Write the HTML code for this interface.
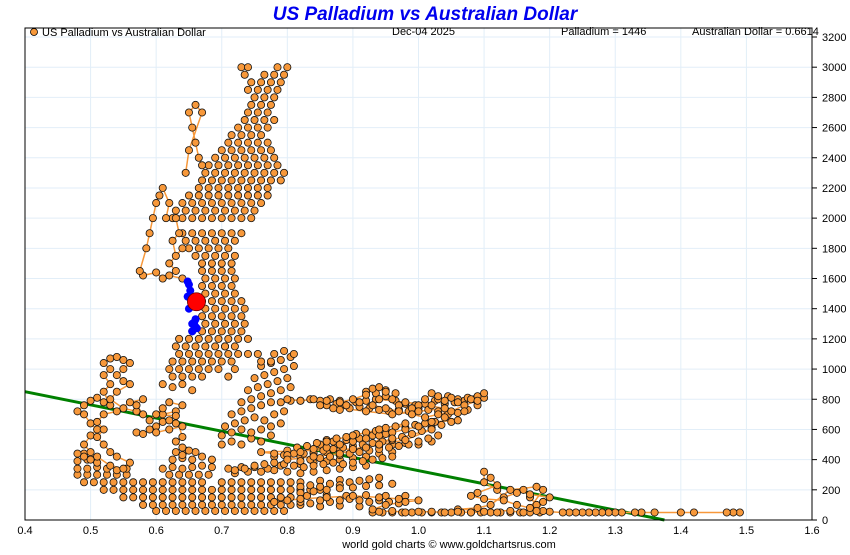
<!DOCTYPE html>
<html><head><meta charset="utf-8"><style>
body{margin:0;background:#fff;font-family:"Liberation Sans",sans-serif}
svg text{font-family:"Liberation Sans",sans-serif}
</style></head><body>
<svg id="chart" width="850" height="550" xmlns="http://www.w3.org/2000/svg">
<text x="425" y="20" text-anchor="middle" font-size="19" font-weight="bold" font-style="italic" fill="#0000ee">US Palladium vs Australian Dollar</text>
<g id="grid"></g>
<g id="trend"></g>
<g id="lines"></g>
<g id="dots"></g>
<g id="axes"></g>
<rect x="25" y="28" width="787" height="492" fill="none" stroke="#000" stroke-width="1"/>
<circle cx="34" cy="32" r="3.5" fill="#f7983a" stroke="#000" stroke-width="0.8"/>
<text x="42" y="36" font-size="11">US Palladium vs Australian Dollar</text>
<text x="392" y="35" font-size="11">Dec-04  2025</text>
<text x="561" y="35" font-size="11">Palladium = 1446</text>
<text x="692" y="35" font-size="11">Australian Dollar = 0.6614</text>
<text x="449" y="548" text-anchor="middle" font-size="11">world gold charts © www.goldchartsrus.com</text>
</svg>
<script>
const xTicks=["0.4","0.5","0.6","0.7","0.8","0.9","1.0","1.1","1.2","1.3","1.4","1.5","1.6"];
const yTicks=[0,200,400,600,800,1000,1200,1400,1600,1800,2000,2200,2400,2600,2800,3000,3200];
const trendAud=[0.4,1.375];
const trendPd=[850,0];
const segTail=[[1.49,50],[1.48,50],[1.47,50],[1.42,50],[1.40,50],[1.36,50],[1.34,50],[1.33,50],[1.31,50],[1.30,50],[1.29,50],[1.28,50],[1.27,50],[1.26,50],[1.25,50],[1.24,50],[1.23,50],[1.22,50],[1.20,55],[1.19,60]];
const segCluster11=[[1.18,100],[1.17,150],[1.16,200],[1.15,180],[1.13,150],[1.12,200],[1.10,250],[1.10,320],[1.11,280],[1.12,230],[1.09,180],[1.08,160],[1.10,140],[1.13,130],[1.15,100],[1.17,80],[1.19,200],[1.18,220],[1.14,200],[1.11,100],[1.09,80],[1.06,70],[1.14,60],[1.16,50],[1.18,60],[1.19,120],[1.20,150],[1.17,170]];
const segBand50=[[1.12,50],[1.10,55],[1.08,50],[1.06,55],[1.04,50],[1.02,55],[1.00,55],[0.98,50],[0.96,60],[0.94,55],[0.93,70],[0.95,100],[0.98,120],[1.00,130],[0.97,140],[0.94,150],[0.90,160],[0.86,150],[0.82,140],[0.80,130],[0.78,120]];
const segLeft=[[0.48,440],[0.49,420],[0.50,400],[0.51,380],[0.50,450],[0.49,500],[0.50,560],[0.51,600],[0.50,640],[0.49,700],[0.48,720],[0.49,760],[0.50,790],[0.51,810],[0.52,780],[0.53,760],[0.52,850],[0.53,900],[0.52,960],[0.53,1000],[0.52,1040],[0.53,1070],[0.54,1080],[0.55,1060],[0.56,1040],[0.55,1000],[0.54,960],[0.55,920],[0.56,900],[0.54,850],[0.53,800],[0.55,740],[0.57,720],[0.58,700],[0.57,760],[0.58,800],[0.56,780],[0.54,720],[0.52,700],[0.51,650],[0.52,600],[0.51,550],[0.52,500],[0.53,450],[0.54,420],[0.56,380],[0.55,340],[0.53,360],[0.51,420]];
const segMidLeft=[[0.57,580],[0.58,570],[0.59,600],[0.60,620],[0.61,650],[0.62,660],[0.63,640],[0.64,620],[0.62,600],[0.60,580],[0.61,700],[0.63,720],[0.64,760],[0.62,780],[0.61,740],[0.59,660],[0.60,700],[0.63,690],[0.64,550],[0.63,520],[0.64,480],[0.65,460],[0.64,430]];
const segRightArm=[[0.80,800],[0.82,790],[0.84,800],[0.86,790],[0.88,780],[0.90,800],[0.92,830],[0.93,870],[0.94,880],[0.95,850],[0.96,800],[0.97,760],[0.99,740],[1.00,760],[1.01,800],[1.02,840],[1.03,820],[1.04,790],[1.05,810],[1.06,780],[1.08,800],[1.10,840],[1.09,790],[1.07,760],[1.05,720],[1.03,700],[1.01,680],[0.99,700],[0.97,720],[0.95,740],[0.93,760],[0.91,780],[0.89,760],[0.87,740],[0.85,760],[0.92,720],[0.96,700],[1.00,720],[1.04,740],[1.07,720],[0.98,780],[1.02,760],[0.94,800]];
const segRightLow=[[1.04,680],[1.06,660],[1.02,650],[1.00,620],[0.98,600],[0.96,580],[0.94,560],[0.92,540],[0.90,520],[0.88,500],[0.86,480],[0.84,470],[0.82,450],[0.80,430],[0.78,440],[0.76,450],[0.90,470],[0.94,500],[0.98,530],[1.02,600],[0.88,440],[0.84,420],[0.80,400],[0.86,520],[0.90,560],[0.94,600],[0.98,640],[0.92,480],[0.96,540]];
const segSpur=[[0.64,1600],[0.62,1620],[0.61,1600],[0.60,1640],[0.58,1620],[0.575,1650],[0.585,1800],[0.59,1900],[0.595,2000],[0.60,2100],[0.605,2150],[0.61,2200],[0.62,2100],[0.615,2000],[0.63,2000],[0.635,1900],[0.625,1850],[0.63,1750],[0.64,1800],[0.62,1700],[0.63,1650]];
const segUpperLeft=[[0.67,2350],[0.665,2400],[0.66,2500],[0.655,2600],[0.65,2700],[0.66,2750],[0.67,2700],[0.65,2450],[0.645,2300]];
const denseUpper=[
[0.625,2000],[0.64,2000],[0.655,2000],[0.67,2000],[0.685,2000],[0.70,2000],[0.715,2000],[0.73,2000],[0.745,2000],
[0.63,2050],[0.645,2050],[0.66,2050],[0.675,2050],[0.69,2050],[0.705,2050],[0.72,2050],[0.735,2050],[0.75,2050],
[0.64,2100],[0.655,2100],[0.67,2100],[0.685,2100],[0.70,2100],[0.715,2100],[0.73,2100],[0.745,2100],[0.76,2100],
[0.65,2150],[0.665,2150],[0.68,2150],[0.695,2150],[0.71,2150],[0.725,2150],[0.74,2150],[0.755,2150],[0.77,2150],
[0.665,2200],[0.68,2200],[0.695,2200],[0.71,2200],[0.725,2200],[0.74,2200],[0.755,2200],[0.77,2200],
[0.67,2250],[0.685,2250],[0.70,2250],[0.715,2250],[0.73,2250],[0.745,2250],[0.76,2250],[0.775,2250],[0.79,2250],
[0.675,2300],[0.69,2300],[0.705,2300],[0.72,2300],[0.735,2300],[0.75,2300],[0.765,2300],[0.78,2300],[0.795,2300],
[0.68,2350],[0.695,2350],[0.71,2350],[0.725,2350],[0.74,2350],[0.755,2350],[0.77,2350],[0.785,2350],
[0.69,2400],[0.705,2400],[0.72,2400],[0.735,2400],[0.75,2400],[0.765,2400],[0.78,2400],
[0.70,2450],[0.715,2450],[0.73,2450],[0.745,2450],[0.76,2450],[0.775,2450],
[0.71,2500],[0.725,2500],[0.74,2500],[0.755,2500],[0.77,2500],
[0.715,2550],[0.73,2550],[0.745,2550],[0.76,2550],
[0.725,2600],[0.74,2600],[0.755,2600],[0.77,2600],
[0.735,2650],[0.75,2650],[0.765,2650],[0.78,2650],
[0.74,2700],[0.755,2700],[0.77,2700],
[0.745,2750],[0.76,2750],[0.775,2750],
[0.75,2800],[0.765,2800],[0.78,2800],
[0.755,2850],[0.77,2850],[0.785,2850],
[0.76,2900],[0.775,2900],[0.79,2900],
[0.765,2950],[0.78,2950],[0.795,2950],
[0.73,3000],[0.74,3000],[0.785,3000],[0.80,3000],[0.735,2950],[0.74,2850],[0.745,2900]];
const denseColumn=[
[0.64,1900],[0.655,1900],[0.67,1900],[0.685,1900],[0.70,1900],[0.715,1900],[0.73,1900],
[0.645,1850],[0.66,1850],[0.675,1850],[0.69,1850],[0.705,1850],[0.72,1850],
[0.65,1800],[0.665,1800],[0.68,1800],[0.695,1800],[0.71,1800],
[0.66,1750],[0.675,1750],[0.69,1750],[0.705,1750],[0.72,1750],
[0.67,1700],[0.685,1700],[0.70,1700],[0.715,1700],
[0.67,1650],[0.685,1650],[0.70,1650],[0.715,1650],
[0.675,1600],[0.69,1600],[0.705,1600],[0.72,1600],
[0.67,1550],[0.685,1550],[0.70,1550],[0.715,1550],
[0.675,1500],[0.69,1500],[0.705,1500],[0.72,1500],
[0.67,1450],[0.685,1450],[0.70,1450],[0.715,1450],[0.73,1450],
[0.675,1400],[0.69,1400],[0.705,1400],[0.72,1400],[0.735,1400],
[0.67,1350],[0.685,1350],[0.70,1350],[0.715,1350],[0.73,1350],
[0.675,1300],[0.69,1300],[0.705,1300],[0.72,1300],[0.735,1300],
[0.655,1250],[0.67,1250],[0.685,1250],[0.70,1250],[0.715,1250],[0.73,1250],
[0.635,1200],[0.65,1200],[0.665,1200],[0.68,1200],[0.695,1200],[0.71,1200],[0.725,1200],[0.74,1200],
[0.63,1150],[0.645,1150],[0.66,1150],[0.675,1150],[0.69,1150],[0.705,1150],[0.72,1150],
[0.635,1100],[0.65,1100],[0.665,1100],[0.68,1100],[0.695,1100],[0.71,1100],[0.725,1100],[0.74,1100],[0.755,1100],
[0.625,1050],[0.64,1050],[0.655,1050],[0.67,1050],[0.685,1050],[0.70,1050],[0.715,1050],[0.76,1050],[0.775,1050],
[0.62,1000],[0.635,1000],[0.65,1000],[0.665,1000],[0.68,1000],[0.695,1000],
[0.625,950],[0.64,950],[0.655,950],[0.67,950],[0.61,900],[0.625,880],[0.64,900],[0.655,860],
[0.71,950],[0.72,1000],[0.705,1150]];
const denseMid=[
[0.70,500],[0.715,520],[0.73,500],[0.745,540],[0.76,520],[0.775,560],
[0.70,560],[0.715,580],[0.73,600],[0.745,580],[0.76,600],[0.775,620],[0.79,640],
[0.705,620],[0.72,640],[0.735,660],[0.75,680],[0.765,660],[0.78,700],[0.795,720],
[0.715,700],[0.73,720],[0.745,740],[0.76,760],[0.775,780],[0.79,780],[0.805,790],
[0.73,780],[0.745,800],[0.76,820],[0.775,840],[0.79,860],[0.805,880],
[0.74,860],[0.755,880],[0.77,900],[0.785,920],[0.80,940],
[0.75,940],[0.765,960],[0.78,980],[0.795,1000],[0.81,1020],
[0.76,1020],[0.775,1040],[0.79,1060],[0.805,1080],[0.78,1100],[0.795,1120],[0.81,1100],
[0.82,790],[0.835,800],[0.85,790],[0.865,800],[0.88,790]];
const denseRight=[
[0.86,760],[0.875,770],[0.89,760],[0.905,780],[0.92,790],[0.935,800],[0.95,820],[0.965,790],[0.98,770],[0.995,760],[1.01,770],[1.025,790],[1.04,770],[1.055,780],[1.07,790],[1.085,800],[1.10,810],
[0.88,730],[0.895,740],[0.91,750],[0.925,740],[0.94,730],[0.955,720],[0.97,730],[0.985,720],[1.00,740],[1.015,730],[1.03,720],[1.045,700],[1.06,710],[1.075,730],[1.09,760],
[0.92,850],[0.935,840],[0.95,860],[0.965,840],[1.03,800],[1.045,820],[1.06,800],[1.075,810],[1.09,820],
[0.78,420],[0.795,430],[0.81,440],[0.825,440],[0.84,450],[0.855,460],[0.87,470],[0.885,480],[0.90,490],[0.915,500],[0.93,510],[0.945,520],[0.96,530],[0.975,550],[0.99,570],[1.005,590],[1.02,610],[1.035,630],[1.05,650],
[0.80,460],[0.815,480],[0.83,490],[0.845,510],[0.86,530],[0.875,540],[0.89,550],[0.905,570],[0.92,580],[0.935,590],[0.95,610],[0.965,620],[0.98,610],[0.995,630],[1.01,640],[1.025,650],
[0.82,390],[0.835,400],[0.85,410],[0.865,420],[0.88,430],[0.895,440],[0.91,450],[0.925,460],[0.94,470],[0.955,480],[0.97,490],[0.985,500],[1.00,520],[1.015,540],[1.03,560],
[0.72,330],[0.735,340],[0.75,360],[0.765,370],[0.78,380],[0.795,370],[0.81,360],[0.825,350],[0.84,360],[0.855,370],[0.87,380],[0.885,370],[0.90,380],[0.915,390],[0.93,400],[0.945,410],[0.96,420],
[0.82,120],[0.835,110],[0.85,130],[0.865,120],[0.88,130],[0.895,140],[0.91,130],[0.925,120],[0.94,130],[0.955,120],[0.97,110],
[0.82,220],[0.835,230],[0.85,220],[0.865,240],[0.88,230],[0.895,250],[0.91,260],[0.925,270],[0.94,280],
[0.82,180],[0.84,190],[0.86,200],[0.88,210],[0.90,215],[0.92,225],[0.94,230],[0.96,240]];
const denseBottom=[
[0.60,60],[0.615,60],[0.63,60],[0.645,60],[0.66,60],[0.675,60],[0.69,60],[0.705,60],[0.72,60],[0.735,60],[0.75,60],[0.765,60],[0.78,60],[0.795,60],
[0.93,50],[0.945,50],[0.96,50],[0.975,50],[0.99,50],[1.005,50],[1.02,50],[1.035,50],[1.05,50],[1.065,50],[1.08,50],[1.095,50],[1.11,50],[1.125,50],[1.14,50],[1.155,50],[1.17,50],[1.185,50],
[0.58,100],[0.595,100],[0.61,100],[0.625,100],[0.64,100],[0.655,100],[0.67,100],[0.685,100],[0.70,100],[0.715,100],[0.73,100],[0.745,100],[0.76,100],[0.775,100],[0.79,100],[0.805,100],[0.82,100],[0.85,90],[0.88,95],[0.91,90],
[0.55,150],[0.565,150],[0.58,150],[0.595,150],[0.61,150],[0.625,150],[0.64,150],[0.655,150],[0.67,150],[0.685,150],[0.70,150],[0.715,150],[0.73,150],[0.745,150],[0.76,150],[0.775,150],[0.79,150],[0.805,150],[0.83,160],[0.86,165],[0.89,160],[0.92,165],[0.95,160],[0.98,160],
[0.52,200],[0.535,200],[0.55,200],[0.565,200],[0.58,200],[0.595,200],[0.61,200],[0.625,200],[0.64,200],[0.655,200],[0.67,200],[0.685,200],[0.70,200],[0.715,200],[0.73,200],[0.745,200],[0.76,200],[0.775,200],[0.79,200],[0.805,200],[0.82,200],[0.835,200],[0.85,200],
[0.49,250],[0.505,250],[0.52,250],[0.535,250],[0.55,250],[0.565,250],[0.58,250],[0.595,250],[0.61,250],[0.625,250],[0.64,250],[0.655,250],[0.67,250],[0.70,250],[0.715,250],[0.73,250],[0.745,250],[0.76,250],[0.775,250],[0.79,250],[0.805,250],[0.82,250],[0.85,260],[0.88,265],
[0.48,300],[0.495,300],[0.51,300],[0.525,300],[0.54,300],[0.555,300],[0.62,300],[0.635,300],[0.65,300],[0.665,300],[0.68,300],[0.72,310],[0.74,320],[0.76,320],[0.78,330],[0.80,320],[0.82,310],[0.84,320],[0.86,330],[0.88,340],[0.90,350],[0.92,360],
[0.48,340],[0.495,340],[0.51,350],[0.525,340],[0.54,330],[0.555,340],[0.61,340],[0.625,350],[0.64,340],[0.655,350],[0.67,360],[0.685,350],[0.71,340],[0.73,350],[0.75,350],[0.77,340],[0.79,360],[0.82,370],[0.84,380],[0.86,390],[0.88,400],[0.90,410],[0.92,420],[0.94,440],[0.96,450],
[0.48,390],[0.495,400],[0.51,380],[0.625,400],[0.64,410],[0.655,400],[0.67,420],[0.685,400],[0.82,420],[0.84,440],[0.86,450],[0.88,460],[0.90,470],[0.92,480],[0.94,490],[0.96,500],[0.98,510],[1.00,500],[1.02,520],
[0.49,440],[0.63,450],[0.645,460],[0.66,450],[0.85,500],[0.87,520],[0.89,530],[0.91,540],[0.93,560],[0.95,570]];
const recentAud=[0.655,0.66,0.655,0.66,0.65,0.655,0.648,0.652,0.65,0.648,0.66,0.662,0.658];
const recentPd=[1250,1280,1300,1330,1400,1420,1480,1520,1560,1580,1450,1270,1310];
const latestAud=0.6614;
const latestPd=1446;

const NS="http://www.w3.org/2000/svg";
const X0=25,X1=812,Y0=520,Y1=37;
function sx(v){return X0+(v-0.4)/1.2*(X1-X0);}
function sy(v){return Y0-v/3200*(Y0-Y1);}
function mk(tag,attrs,parent){const e=document.createElementNS(NS,tag);for(const k in attrs)e.setAttribute(k,attrs[k]);parent.appendChild(e);return e;}
const grid=document.getElementById('grid'),axes=document.getElementById('axes');
xTicks.forEach(t=>{const x=sx(parseFloat(t));
 const l=mk('line',{x1:x,x2:x,y1:28,y2:520,stroke:'#e2eef8','stroke-width':1},grid);
 
 
 const tx=mk('text',{x:x,y:534,'text-anchor':'middle','font-size':11},axes);tx.textContent=t;
 
 
});
yTicks.forEach(t=>{const y=sy(t);
 const l=mk('line',{x1:25,x2:812,y1:y,y2:y,stroke:'#e2eef8','stroke-width':1},grid);
 
 
 const tk=mk('line',{x1:812,x2:817,y1:y,y2:y,stroke:'#000'},axes);
 
 
 const tx=mk('text',{x:822,y:y+4,'font-size':11},axes);tx.textContent=t;
 
 
});
const tr=mk('line',{x1:sx(trendAud[0]),y1:sy(trendPd[0]),x2:sx(trendAud[1]),y2:sy(trendPd[1]),stroke:'#008000','stroke-width':3},document.getElementById('trend'));


const lineSegs=[segTail,segCluster11,segBand50,segLeft,segMidLeft,segRightArm,segRightLow,segSpur,segUpperLeft];
const dotSets=[denseBottom,denseRight,denseMid,denseColumn,denseUpper,segTail,segCluster11,segBand50,segLeft,segMidLeft,segRightArm,segRightLow,segSpur,segUpperLeft];
const lines=document.getElementById('lines'),dots=document.getElementById('dots');
lineSegs.forEach(s=>{
 const p=mk('polyline',{points:s.map(d=>sx(d[0])+','+sy(d[1])).join(' '),fill:'none',stroke:'#f7983a','stroke-width':1.5},lines);
 
 
});
dotSets.forEach(s=>s.forEach(d=>{
 const c=mk('circle',{cx:sx(d[0]),cy:sy(d[1]),r:3.6,fill:'#f7983a',stroke:'#111','stroke-width':0.8},dots);
 
 
}));
recentAud.forEach((a,i)=>{
 const c=mk('circle',{cx:sx(a),cy:sy(recentPd[i]),r:4,fill:'#0000ff'},dots);
 
 
});
const lp=mk('circle',{cx:sx(latestAud),cy:sy(latestPd),r:9,fill:'#ff0000',stroke:'#600','stroke-width':0.8},dots);


</script>
</body></html>
